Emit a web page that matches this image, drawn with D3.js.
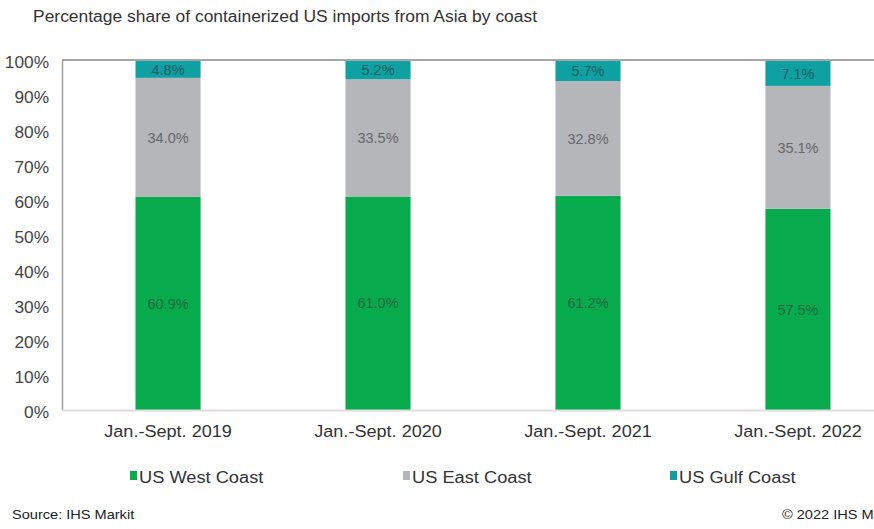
<!DOCTYPE html>
<html>
<head>
<meta charset="utf-8">
<script src="https://cdn.jsdelivr.net/npm/d3@7"></script>
<style>
  html, body { margin: 0; padding: 0; background: #fff; }
  svg { display: block; font-family: "Liberation Sans", Arial, sans-serif; }
</style>
</head>
<body>
<svg id="chart" width="874" height="529"></svg>
<script>
// Containerized US imports from Asia, share by coast (percent)
const periods = ["Jan.-Sept. 2019", "Jan.-Sept. 2020", "Jan.-Sept. 2021", "Jan.-Sept. 2022"];
const westCoast = [60.9, 61.0, 61.2, 57.5];
const eastCoast = [34.0, 33.5, 32.8, 35.1];
const gulfCoast = [4.8, 5.2, 5.7, 7.1];
const seriesNames = ["US West Coast", "US East Coast", "US Gulf Coast"];
const yTicks = [0, 10, 20, 30, 40, 50, 60, 70, 80, 90, 100];

const fills = ["#08aa4e", "#b5b6ba", "#0fa0a1"];
const labelColors = ["#1f6a3d", "#666769", "#1e5f62"];

const rows = periods.map((p, i) => ({
  period: p,
  [seriesNames[0]]: westCoast[i],
  [seriesNames[1]]: eastCoast[i],
  [seriesNames[2]]: gulfCoast[i]
}));
const stacked = d3.stack().keys(seriesNames)(rows);

const svg = d3.select("#chart");
const plot = { left: 62, top: 60, bottom: 410, right: 904 };

const x = d3.scaleBand().domain(periods).range([plot.left, plot.right]).paddingInner(0.69).paddingOuter(0.35);
const y = d3.scaleLinear().domain([0, 100]).range([plot.bottom, plot.top]);

// widen glyphs slightly, keeping each text's anchor
function stretch(sel, k) {
  sel.each(function () {
    const w = this.getComputedTextLength();
    this.setAttribute("textLength", w * k);
    this.setAttribute("lengthAdjust", "spacingAndGlyphs");
  });
}

// title
svg.append("text")
  .attr("x", 33).attr("y", 22)
  .attr("font-size", 16).attr("fill", "#333")
  .text("Percentage share of containerized US imports from Asia by coast")
  .call(stretch, 1.09);

// y axis labels
const yAxis = d3.axisLeft(y).tickValues(yTicks).tickFormat(d => d + "%").tickSize(0).tickPadding(13);
const gy = svg.append("g").attr("transform", `translate(${plot.left},0)`).call(yAxis);
gy.select(".domain").attr("stroke", "#a0a0a0").attr("stroke-width", 1.5);
gy.selectAll("text").attr("font-size", 16).attr("fill", "#444").attr("dy", "0.45em")
  .attr("font-family", "Liberation Sans, Arial, sans-serif").call(stretch, 1.08);

// top rule at 100%
svg.append("line")
  .attr("x1", plot.left).attr("x2", 874)
  .attr("y1", y(100)).attr("y2", y(100))
  .attr("stroke", "#8a8a8a").attr("stroke-width", 1.5);

// bars
const layers = svg.append("g").selectAll("g").data(stacked).join("g")
  .attr("fill", (d, i) => fills[i]);
layers.selectAll("rect").data(d => d).join("rect")
  .attr("x", d => x(d.data.period))
  .attr("width", x.bandwidth())
  .attr("y", d => y(d[1]))
  .attr("height", d => y(d[0]) - y(d[1]));

// value labels
stacked.forEach((layer, i) => {
  svg.append("g").selectAll("text").data(layer).join("text")
    .attr("x", d => x(d.data.period) + x.bandwidth() / 2)
    .attr("y", d => (y(d[0]) + y(d[1])) / 2)
    .attr("dy", "0.36em")
    .attr("text-anchor", "middle")
    .attr("font-size", 14.5)
    .attr("fill", labelColors[i])
    .text(d => (d[1] - d[0]).toFixed(1) + "%");
});

// x axis
const xAxis = d3.axisBottom(x).tickSize(0).tickPadding(16);
const gx = svg.append("g").attr("transform", `translate(0,${plot.bottom})`).call(xAxis);
gx.select(".domain").attr("stroke", "#e2dcdc").attr("stroke-width", 2);
gx.selectAll("text").attr("font-size", 16).attr("fill", "#333")
  .attr("font-family", "Liberation Sans, Arial, sans-serif").call(stretch, 1.13);

// legend
const legendX = [130, 403, 670];
const legend = svg.append("g").selectAll("g").data(seriesNames).join("g")
  .attr("transform", (d, i) => `translate(${legendX[i]},0)`);
legend.append("rect").attr("x", 0).attr("y", 471).attr("width", 7).attr("height", 9)
  .attr("fill", (d, i) => fills[i]);
legend.append("text").attr("x", 9).attr("y", 483)
  .attr("font-size", 16).attr("fill", "#333").text(d => d)
  .call(stretch, 1.14);

// footer
svg.append("text").attr("x", 12).attr("y", 519).attr("font-size", 13).attr("fill", "#222")
  .text("Source: IHS Markit").call(stretch, 1.12);
svg.append("text").attr("x", 782).attr("y", 519).attr("font-size", 13).attr("fill", "#222")
  .text("© 2022 IHS Markit").call(stretch, 1.12);
</script>
</body>
</html>
